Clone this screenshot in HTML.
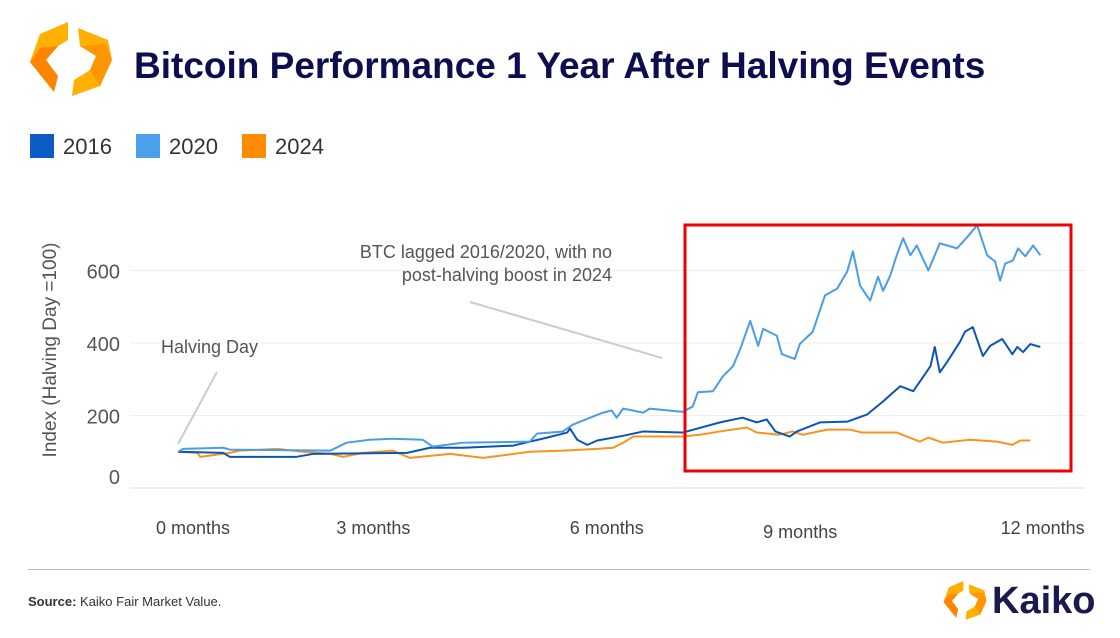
<!DOCTYPE html>
<html><head><meta charset="utf-8"><style>
body{margin:0;width:1120px;height:638px;background:#fff;font-family:"Liberation Sans",Arial,sans-serif;overflow:hidden;position:relative}
.t{position:absolute;white-space:nowrap}
</style></head><body>
<svg style="position:absolute;left:28px;top:20px" width="86" height="80" viewBox="0 0 86 80">
<polygon points="40,2 12,14 2,42 26,72 30,56 18,40 30,26 40,20" fill="#ffb000"/>
<polygon points="30,26 18,40 30,56 26,72 2,42 12,28" fill="#ff7a00" opacity="0.8"/>
<polygon points="50,8 80,20 84,40 72,66 44,76 46,60 62,50 68,36 52,26" fill="#ffb000"/>
<polygon points="52,26 68,36 62,50 72,66 84,40 78,24" fill="#ff8a00" opacity="0.7"/>
</svg>
<div class="t" style="left:134px;top:45px;font-size:37px;font-weight:bold;color:#0d0d4f">Bitcoin Performance 1 Year After Halving Events</div>
<div>
<div><div style="position:absolute;left:30px;top:134px;width:24px;height:24px;background:#0b5cc4"></div><div class="t" style="left:63px;top:134px;font-size:22px;color:#333">2016</div></div>
<div><div style="position:absolute;left:136px;top:134px;width:24px;height:24px;background:#4aa0ec"></div><div class="t" style="left:169px;top:134px;font-size:22px;color:#333">2020</div></div>
<div><div style="position:absolute;left:242px;top:134px;width:24px;height:24px;background:#ff8c00"></div><div class="t" style="left:275px;top:134px;font-size:22px;color:#333">2024</div></div>
</div>
<svg id="chart" style="position:absolute;left:0;top:0" width="1120" height="638"></svg>
<div style="position:absolute;left:28px;top:569px;width:1062px;height:1px;background:#bbb"></div>
<div class="t" style="left:28px;top:594px;font-size:13px;color:#333"><b>Source:</b> Kaiko Fair Market Value.</div>
<svg style="position:absolute;left:942px;top:580px" width="46" height="42" viewBox="0 0 86 80">
<polygon points="40,2 12,14 2,42 26,72 30,56 18,40 30,26 40,20" fill="#ffb000"/>
<polygon points="30,26 18,40 30,56 26,72 2,42 12,28" fill="#ff7a00" opacity="0.8"/>
<polygon points="50,8 80,20 84,40 72,66 44,76 46,60 62,50 68,36 52,26" fill="#ffb000"/>
<polygon points="52,26 68,36 62,50 72,66 84,40 78,24" fill="#ff8a00" opacity="0.7"/>
</svg>
<div class="t" style="left:992px;top:580px;font-size:38px;font-weight:bold;color:#1a1a4e">Kaiko</div>
<script>
const m2020=[0,0.07,0.63,0.72,2.12,2.35,2.67,2.99,3.41,3.55,3.97,4.9,5.0,5.36,5.5,5.92,6.04,6.11,6.2,6.48,6.57,7.03,7.17,7.24,7.45,7.59,7.73,7.83,7.97,8.08,8.15,8.34,8.41,8.59,8.66,8.84,9.01,9.18,9.32,9.4,9.5,9.64,9.75,9.82,9.92,10.01,10.1,10.2,10.29,10.45,10.61,10.85,11.0,11.13,11.27,11.38,11.45,11.52,11.63,11.7,11.8,11.91,12.01];
const v2020=[100,108,111,106,103,125,133,136,133,114,125,128,150,156,175,208,214,194,219,208,219,210,225,264,267,308,336,383,461,392,439,420,369,356,397,431,531,550,597,653,558,517,583,544,586,642,689,642,669,600,675,661,694,725,642,625,572,619,628,661,639,669,642];
const m2016=[0,0.63,0.72,1.65,1.88,3.19,3.51,3.97,4.67,5.14,5.42,5.46,5.56,5.7,5.84,6.2,6.48,7.03,7.55,7.86,8.06,8.2,8.32,8.52,8.62,8.94,9.32,9.6,9.82,10.06,10.24,10.48,10.54,10.61,10.71,10.89,10.96,11.07,11.21,11.31,11.48,11.62,11.69,11.77,11.87,12.01];
const v2016=[100,97,86,86,94,97,111,111,117,139,153,164,133,119,131,144,156,153,181,194,181,189,156,142,156,181,183,203,239,281,267,336,389,319,347,403,431,444,364,392,411,369,389,375,397,389];
const m2024=[0,0.27,0.31,0.72,0.86,1.38,1.74,2.12,2.3,2.58,2.99,3.23,3.79,4.25,4.9,5.36,5.84,6.06,6.2,6.34,7.03,7.27,7.55,7.92,8.06,8.38,8.56,8.7,9.04,9.36,9.53,10.01,10.33,10.45,10.65,11.03,11.41,11.62,11.73,11.87];
const v2024=[100,97,86,97,103,108,100,94,86,97,103,83,94,83,100,103,108,111,125,142,142,147,156,167,153,147,156,147,161,161,153,153,128,139,125,133,128,119,131,131];
const yTicks=[0,200,400,600];
const xTickLabels=["0 months","3 months","6 months","9 months","12 months"];
const xTickPos=[0,3,6,9,12];
const NS="http://www.w3.org/2000/svg",svg=document.getElementById('chart');
const X=m=>178+m*71.8, Y=v=>488-v*0.3625;
function mk(t,a){const e=document.createElementNS(NS,t);for(const k in a)e.setAttribute(k,a[k]);svg.appendChild(e);return e;}
yTicks.forEach(v=>{
 const g=mk('line',{x1:130,x2:1085,y1:Y(v),y2:Y(v),stroke:v===0?'#ddd':'#eee','stroke-width':1});
 
 
 const t=mk('text',{x:120,y:Y(v)+(v===0?-4:8),'text-anchor':'end','font-size':20,fill:'#555','font-family':'Liberation Sans, sans-serif'});
 t.textContent=v;
 
 
});
const xoff=[15,-20,-2,-24,3];
xTickPos.forEach((m,i)=>{
 const t=mk('text',{x:X(m)+xoff[i],y:i===3?538:534,'text-anchor':'middle','font-size':18,fill:'#444','font-family':'Liberation Sans, sans-serif'});
 t.textContent=xTickLabels[i];
 
 
});
const yt=mk('text',{x:56,y:350,transform:'rotate(-90 56 350)','text-anchor':'middle','font-size':19,fill:'#555','font-family':'Liberation Sans, sans-serif'});
yt.textContent='Index (Halving Day =100)';


function series(ms,vs,c,n){
 const p=mk('polyline',{points:ms.map((m,i)=>X(m)+','+Y(vs[i])).join(' '),fill:'none',stroke:c,'stroke-width':2,'stroke-linejoin':'round'});
 
 
}
series(m2024,v2024,'#f7941d','line-2024');
series(m2016,v2016,'#0b55b5','line-2016');
series(m2020,v2020,'#4a9de6','line-2020');
const box=mk('rect',{x:685,y:225,width:386,height:246,fill:'none',stroke:'#e00','stroke-width':3});


const l1=mk('line',{x1:178,y1:444,x2:217,y2:372,stroke:'#ccc','stroke-width':2});


const l2=mk('line',{x1:470,y1:302,x2:662,y2:358,stroke:'#ccc','stroke-width':2});


function txt(x,y,s,a,n){const t=mk('text',{x:x,y:y,'text-anchor':a,'font-size':18,fill:'#555','font-family':'Liberation Sans, sans-serif'});t.textContent=s;
 
 }
txt(161,353,'Halving Day','start','halving-day-label');
txt(612,258,'BTC lagged 2016/2020, with no','end','annotation-line-1');
txt(612,281,'post-halving boost in 2024','end','annotation-line-2');
</script>
</body></html>
